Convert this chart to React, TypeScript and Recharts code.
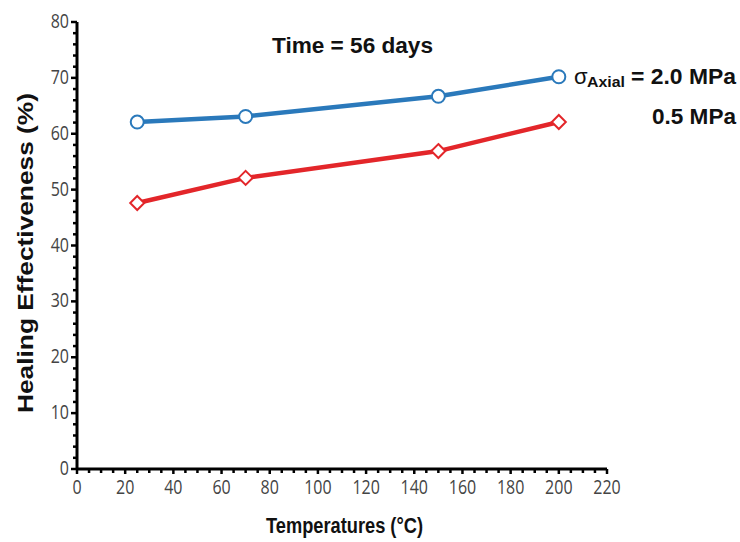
import { Line, LineChart, XAxis, YAxis } from 'recharts'

// temperatures (°C) and healing effectiveness (%)
const temperatures = [25, 70, 150, 200]
const axial20 = [62.1, 63.1, 66.7, 70.2]
const axial05 = [47.6, 52.1, 56.9, 62.1]

const xTicks = Array.from({ length: 45 }, (_, i) => i * 5)
const yTicks = Array.from({ length: 41 }, (_, i) => i * 2)

const BLUE = '#2a79bb'
const RED = '#e3262a'

const data = temperatures.map((t, i) => ({ t, a20: axial20[i], a05: axial05[i] }))

const tickFont = { fontFamily: '"Open Sans", sans-serif', fontSize: 16, fill: '#444' }
const bold = { fontFamily: "'Liberation Sans', Arial, sans-serif", fontWeight: 700, fill: '#111' }

function XTick({ x, y, payload }: any) {
  const major = payload.value % 20 === 0
  return (
    <g>
      <line x1={x} y1={y} x2={x} y2={y + (major ? 5 : 4)} stroke="#000" strokeWidth={2.5} />
      {major && (
        <text transform={`translate(${x},${y + 25}) scale(1,1.2)`} textAnchor="middle" {...tickFont}>
          {payload.value}
        </text>
      )}
    </g>
  )
}

function YTick({ x, y, payload }: any) {
  const major = payload.value % 10 === 0
  return (
    <g>
      <line x1={x - (major ? 6 : 4)} y1={y} x2={x} y2={y} stroke="#000" strokeWidth={2.5} />
      {major && (
        <text transform={`translate(${x - 8},${y + 6}) scale(1,1.2)`} textAnchor="end" {...tickFont}>
          {payload.value}
        </text>
      )}
    </g>
  )
}

function Diamond({ cx, cy }: any) {
  const s = 7
  return (
    <polygon
      points={`${cx},${cy - s} ${cx + s},${cy} ${cx},${cy + s} ${cx - s},${cy}`}
      fill="#fff"
      stroke={RED}
      strokeWidth={2}
    />
  )
}

export default function App() {
  return (
    <div style={{ position: 'fixed', left: 0, top: 0, width: 740, height: 542, overflow: 'hidden', background: '#fff' }}>
      <LineChart width={740} height={542} data={data} margin={{ top: 22, right: 133, bottom: 33, left: 0 }}>
        <XAxis
          dataKey="t"
          type="number"
          domain={[0, 220]}
          ticks={xTicks}
          interval={0}
          tick={<XTick />}
          tickLine={false}
          tickSize={0}
          tickMargin={0}
          axisLine={{ stroke: '#000', strokeWidth: 3 }}
          height={40}
        />
        <YAxis
          type="number"
          domain={[0, 80]}
          ticks={yTicks}
          interval={0}
          tick={<YTick />}
          tickLine={false}
          tickSize={0}
          tickMargin={0}
          axisLine={{ stroke: '#000', strokeWidth: 3 }}
          width={77}
        />
        <Line dataKey="a05" stroke={RED} strokeWidth={4.5} dot={<Diamond />} isAnimationActive={false} />
        <Line
          dataKey="a20"
          stroke={BLUE}
          strokeWidth={4.5}
          dot={{ r: 6.5, fill: '#fff', stroke: BLUE, strokeWidth: 2 }}
          isAnimationActive={false}
        />
      </LineChart>
      {/* titles and annotations */}
      <svg width={740} height={542} style={{ position: 'absolute', left: 0, top: 0, pointerEvents: 'none' }}>
        <text
          transform="translate(33,253) rotate(-90)"
          textAnchor="middle"
          fontSize={22}
          textLength={320}
          lengthAdjust="spacingAndGlyphs"
          {...bold}
        >
          Healing Effectiveness (%)
        </text>
        <text x={266} y={533} fontSize={22} textLength={157} lengthAdjust="spacingAndGlyphs" {...bold}>
          Temperatures (°C)
        </text>
        <text x={272} y={53} fontSize={22} textLength={161} lengthAdjust="spacingAndGlyphs" {...bold}>
          Time = 56 days
        </text>
        <text x={574} y={84} fontSize={22} fontFamily="'Liberation Sans', Arial, sans-serif" fill="#111">
          σ
        </text>
        <text x={587} y={87} fontSize={14} textLength={38} lengthAdjust="spacingAndGlyphs" {...bold}>
          Axial
        </text>
        <text x={631} y={84} fontSize={22} textLength={105} lengthAdjust="spacingAndGlyphs" {...bold}>
          = 2.0 MPa
        </text>
        <text x={652} y={124} fontSize={22} textLength={84} lengthAdjust="spacingAndGlyphs" {...bold}>
          0.5 MPa
        </text>
      </svg>
    </div>
  )
}
